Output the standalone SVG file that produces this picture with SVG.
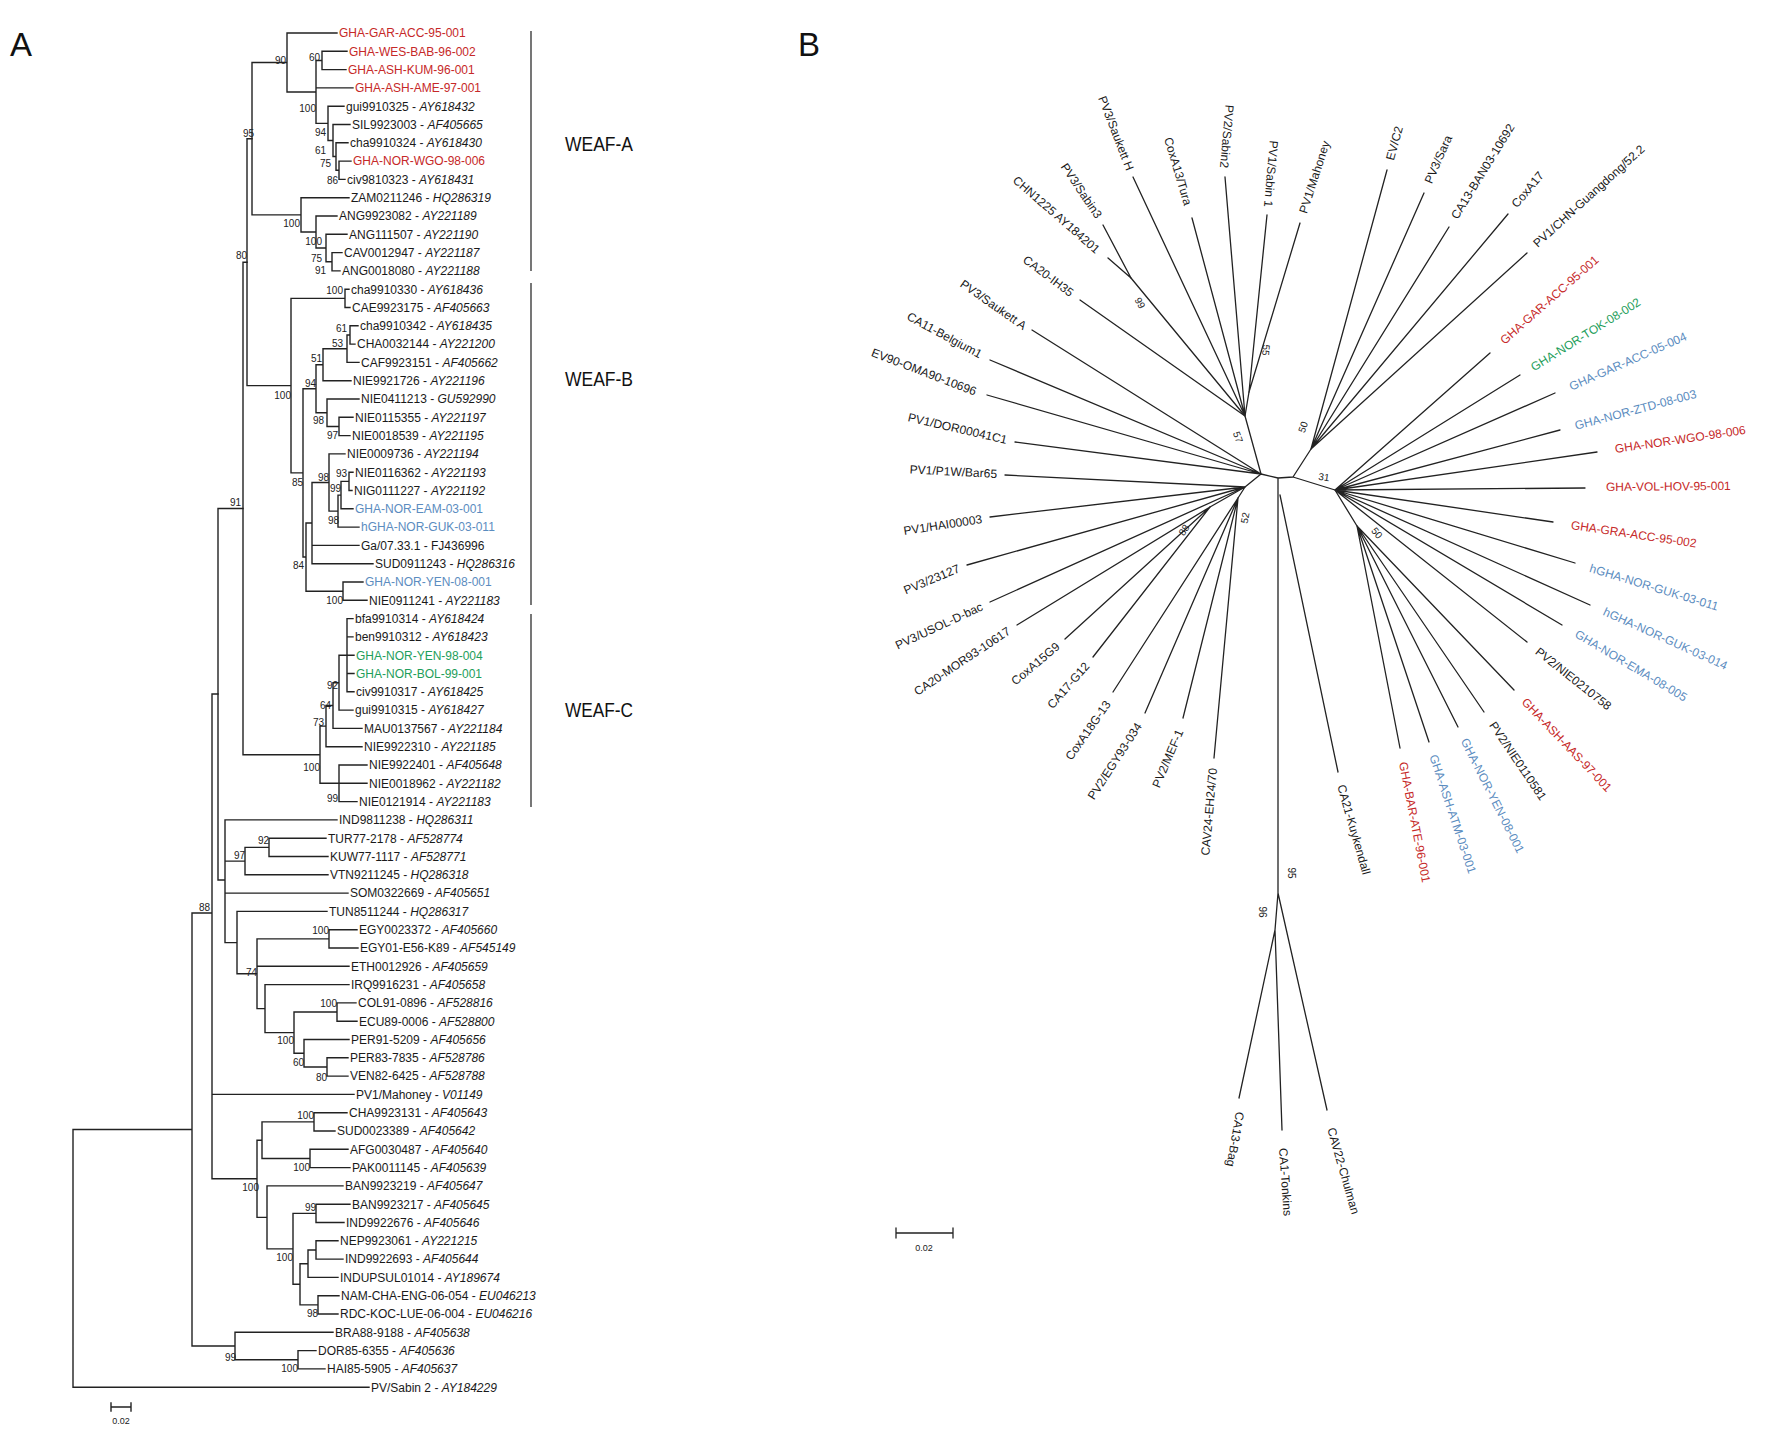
<svg xmlns="http://www.w3.org/2000/svg" width="1772" height="1443" viewBox="0 0 1772 1443">
<style>
text{font-family:"Liberation Sans",Arial,sans-serif}
.ln{fill:none;stroke:#222;stroke-width:1.4;stroke-linecap:square}
.lb{fill:none;stroke:#222;stroke-width:1.3;stroke-linecap:round}
.br{fill:none;stroke:#555;stroke-width:1.6}
.lf{font-size:12px;fill:#1a1a1a}
.it{font-style:italic}
.r{fill:#c62828}.b{fill:#5b8cc0}.g{fill:#1e9e5a}
.bs{font-size:10px;fill:#222;text-anchor:end}
.bb{font-size:10px;fill:#222;text-anchor:middle;dominant-baseline:central}
.tl{font-size:12px;fill:#1a1a1a;dominant-baseline:central}
.tl.r{fill:#c62828}.tl.b{fill:#5b8cc0}.tl.g{fill:#1e9e5a}
.e{text-anchor:end}
.pl{font-size:33px;fill:#111}
.wf{font-size:21px;fill:#111}
.sc{font-size:9px;fill:#222;text-anchor:middle}
</style>
<rect width="1772" height="1443" fill="#fff"/>
<g id="panel-labels"><text class="pl" x="10" y="56">A</text><text class="pl" x="798" y="56">B</text></g>
<g id="connectors">
<path class="ln" d="M322 51.3V69.6M322 51.3H347M322 69.6H346M339 161.1V179.4M339 161.1H351M339 179.4H345M336 142.8V170.3M336 142.8H348M336 170.3H339M333 124.5V156.5M333 124.5H350M333 156.5H336M328 106.2V140.5M328 106.2H344M328 140.5H333M316 60.5V123.4M316 60.5H322M316 87.9H353M316 123.4H328M287 33V92M287 33H337M287 92H316M332 252.6V270.9M332 252.6H342M332 270.9H340M326 234.3V261.8M326 234.3H347M326 261.8H332M316 216V248M316 216H337M316 248H326M301 197.7V232M301 197.7H349M301 232H316M252 62.5V214.9M252 62.5H287M252 214.9H301"/>
<path class="ln" d="M345 289.2V307.5M345 289.2H349M345 307.5H350M350 325.8V344.1M350 325.8H358M350 344.1H355M347 335V362.4M347 335H350M347 362.4H359M323 348.7V380.7M323 348.7H347M323 380.7H351M339 417.3V435.6M339 417.3H353M339 435.6H350M327 399V426.5M327 399H359M327 426.5H339M316 364.7V412.8M316 364.7H323M316 412.8H327M349 472.2V490.5M349 472.2H353M349 490.5H352M341 481.4V508.8M341 481.4H349M341 508.8H353M338 495.1V527.1M338 495.1H341M338 527.1H359M329 453.9V511.1M329 453.9H345M329 511.1H338M312 482.5V563.7M312 482.5H329M312 545.4H359M312 563.7H373M343 582V600.3M343 582H363M343 600.3H367M306 523V591.2M306 523H312M306 591.2H343M303 388.7V557M303 388.7H316M303 557H306M291 298.4V472.9M291 298.4H345M291 472.9H303M247 138.7V385.6M247 138.7H252M247 385.6H291"/>
<path class="ln" d="M347 618.6V691.8M347 618.6H353M347 636.9H353M347 655.2H354M347 673.5H354M347 691.8H354M339 655.2V710.1M339 655.2H347M339 710.1H353M333 682.7V728.4M333 682.7H339M333 728.4H362M326 705.5V746.7M326 705.5H333M326 746.7H362M339 765V801.6M339 765H367M339 783.3H367M339 801.6H357M320 726.1V783.3M320 726.1H326M320 783.3H339M243 262.2V754.7M243 262.2H247M243 754.7H320"/>
<path class="ln" d="M269 838.2V856.5M269 838.2H326M269 856.5H328M245 847.4V874.8M245 847.4H269M245 874.8H328M225 819.9V942.6M225 819.9H337M225 861.1H245M225 893.1H348M225 942.6H237M218 508.5V880M218 508.5H243M218 880H225M329 929.7V948M329 929.7H357M329 948H358M337 1002.9V1021.2M337 1002.9H356M337 1021.2H357M327 1057.8V1076.1M327 1057.8H348M327 1076.1H348M304 1039.5V1067M304 1039.5H349M304 1067H327M294 1012V1053.2M294 1012H337M294 1053.2H304M265 984.6V1032.6M265 984.6H349M265 1032.6H294M257 938.9V1008.6M257 938.9H329M257 966.3H349M257 1008.6H265M237 911.4V973.7M237 911.4H327M237 973.7H257"/>
<path class="ln" d="M314 1112.7V1131M314 1112.7H347M314 1131H335M310 1149.3V1167.6M310 1149.3H348M310 1167.6H350M262 1121.9V1158.5M262 1121.9H314M262 1158.5H310M316 1204.2V1222.5M316 1204.2H350M316 1222.5H344M316 1240.8V1259.1M316 1240.8H338M316 1259.1H343M308 1250V1277.4M308 1250H316M308 1277.4H338M318 1295.7V1314M318 1295.7H339M318 1314H338M300 1263.7V1304.9M300 1263.7H308M300 1304.9H318M293 1213.4V1284.3M293 1213.4H316M293 1284.3H300M267 1185.9V1248.9M267 1185.9H343M267 1248.9H293M257 1140.2V1217.4M257 1140.2H262M257 1217.4H267M212 694V1178.8M212 694H218M212 1094.4H354M212 1178.8H257M298 1350.6V1368.9M298 1350.6H316M298 1368.9H325M235 1332.3V1359.8M235 1332.3H333M235 1359.8H298M192 913V1346M192 913H212M192 1346H235M73 1129.5V1387.2M73 1129.5H192M73 1387.2H369"/>
<path class="br" d="M531 31V271M531 283V605M531 614V807"/>
<path class="ln" d="M111 1407H131M111 1403V1411M131 1403V1411"/>
<path class="lb" d="M1261 474L1278 478M1245 487L1261 474M1245 416L1261 474M1249 392L1245 416M1131 278L1245 416M1210 507L1245 487M1238 498L1245 487M1278 478L1293 477M1293 477L1311 449M1293 477L1335 490M1335 490L1357 526M1278 478L1278 893M1278 893L1275 930M1278 893L1327 1110M1275 930L1239 1098M1275 930L1282 1130M1280 495L1338 772"/>
<path class="lb" d="M1245 416L1133 177M1245 416L1192 218M1245 416L1225 177M1245 416L1080 300M1249 392L1267 215M1249 392L1300 223M1131 278L1103 225M1131 278L1108 258M1261 474L1032 330M1261 474L990 360M1261 474L987 395M1261 474L1015 442M1245 487L1005 475M1245 487L990 517M1245 487L967 565M1245 487L990 602M1210 507L1017 625M1210 507L1065 639M1210 507L1093 657M1238 498L1113 692M1238 498L1145 713M1238 498L1183 718M1238 498L1214 758"/>
<path class="lb" d="M1311 449L1387 170M1311 449L1424 193M1311 449L1449 227M1311 449L1508 214M1311 449L1527 253M1335 490L1490 353M1335 490L1520 375M1335 490L1555 393M1335 490L1560 430M1335 490L1597 452M1335 490L1585 488M1335 490L1553 522M1335 490L1575 563M1335 490L1590 605M1335 490L1562 625M1335 490L1527 642M1357 526L1514 690M1357 526L1484 712M1357 526L1458 727M1357 526L1429 742M1357 526L1400 748"/>
<path class="lb" d="M896 1233H953M896 1228V1238M953 1228V1238"/>
</g>
<g id="clade-labels">
<text class="wf" x="565" y="151" textLength="68" lengthAdjust="spacingAndGlyphs">WEAF-A</text>
<text class="wf" x="565" y="386" textLength="68" lengthAdjust="spacingAndGlyphs">WEAF-B</text>
<text class="wf" x="565" y="717" textLength="68" lengthAdjust="spacingAndGlyphs">WEAF-C</text>
<text class="sc" x="121" y="1424">0.02</text>
<text class="sc" x="924" y="1251">0.02</text>
</g>
<g id="bootstrap-a">
<text class="bs" x="286" y="63.5">90</text><text class="bs" x="320" y="60.5">60</text><text class="bs" x="316" y="111.5">100</text><text class="bs" x="254" y="136.5">95</text><text class="bs" x="326" y="135.5">94</text><text class="bs" x="326" y="153.5">61</text><text class="bs" x="331" y="166.5">75</text><text class="bs" x="338" y="183.5">86</text><text class="bs" x="300" y="226.5">100</text><text class="bs" x="322" y="244.5">100</text><text class="bs" x="322" y="261.5">75</text><text class="bs" x="326" y="273.5">91</text><text class="bs" x="247" y="258.5">80</text>
<text class="bs" x="343" y="293.5">100</text><text class="bs" x="347" y="331.5">61</text><text class="bs" x="343" y="346.5">53</text><text class="bs" x="322" y="361.5">51</text><text class="bs" x="316" y="386.5">94</text><text class="bs" x="291" y="398.5">100</text><text class="bs" x="324" y="423.5">98</text><text class="bs" x="338" y="438.5">97</text><text class="bs" x="329" y="480.5">98</text><text class="bs" x="347" y="476.5">93</text><text class="bs" x="341" y="491.5">99</text><text class="bs" x="303" y="485.5">85</text><text class="bs" x="241" y="505.5">91</text><text class="bs" x="339" y="523.5">98</text><text class="bs" x="304" y="568.5">84</text><text class="bs" x="343" y="603.5">100</text>
<text class="bs" x="338" y="688.5">92</text><text class="bs" x="331" y="708.5">64</text><text class="bs" x="324" y="725.5">73</text><text class="bs" x="320" y="770.5">100</text><text class="bs" x="338" y="801.5">99</text><text class="bs" x="269" y="843.5">92</text><text class="bs" x="245" y="858.5">97</text><text class="bs" x="210" y="910.5">88</text><text class="bs" x="329" y="933.5">100</text><text class="bs" x="257" y="975.5">74</text><text class="bs" x="337" y="1006.5">100</text><text class="bs" x="294" y="1043.5">100</text><text class="bs" x="304" y="1065.5">60</text><text class="bs" x="327" y="1080.5">80</text><text class="bs" x="314" y="1118.5">100</text><text class="bs" x="310" y="1170.5">100</text><text class="bs" x="259" y="1190.5">100</text><text class="bs" x="316" y="1210.5">99</text><text class="bs" x="293" y="1260.5">100</text><text class="bs" x="318" y="1316.5">98</text><text class="bs" x="236" y="1360.5">99</text><text class="bs" x="298" y="1371.5">100</text>
</g>
<g id="bootstrap-b">
<text class="bb" transform="translate(1140 303) rotate(60)">99</text><text class="bb" transform="translate(1266 350) rotate(95)">55</text><text class="bb" transform="translate(1238 437) rotate(70)">57</text><text class="bb" transform="translate(1184 530) rotate(-55)">88</text><text class="bb" transform="translate(1245 518) rotate(-80)">52</text><text class="bb" transform="translate(1303 427) rotate(-70)">50</text><text class="bb" transform="translate(1324 477) rotate(8)">31</text><text class="bb" transform="translate(1377 533) rotate(50)">50</text><text class="bb" transform="translate(1291 873) rotate(90)">95</text><text class="bb" transform="translate(1262 912) rotate(90)">96</text>
</g>
<g id="a1"><text class="lf r" x="339" y="37.3">GHA-GAR-ACC-95-001</text></g>
<g id="a2"><text class="lf r" x="349" y="55.6">GHA-WES-BAB-96-002</text></g>
<g id="a3"><text class="lf r" x="348" y="73.9">GHA-ASH-KUM-96-001</text></g>
<g id="a4"><text class="lf r" x="355" y="92.2">GHA-ASH-AME-97-001</text></g>
<g id="a5"><text class="lf" x="346" y="110.5">gui9910325 - <tspan class="it">AY618432</tspan></text></g>
<g id="a6"><text class="lf" x="352" y="128.8">SIL9923003 - <tspan class="it">AF405665</tspan></text></g>
<g id="a7"><text class="lf" x="350" y="147.1">cha9910324 - <tspan class="it">AY618430</tspan></text></g>
<g id="a8"><text class="lf r" x="353" y="165.4">GHA-NOR-WGO-98-006</text></g>
<g id="a9"><text class="lf" x="347" y="183.7">civ9810323 - <tspan class="it">AY618431</tspan></text></g>
<g id="a10"><text class="lf" x="351" y="202">ZAM0211246 - <tspan class="it">HQ286319</tspan></text></g>
<g id="a11"><text class="lf" x="339" y="220.3">ANG9923082 - <tspan class="it">AY221189</tspan></text></g>
<g id="a12"><text class="lf" x="349" y="238.6">ANG111507 - <tspan class="it">AY221190</tspan></text></g>
<g id="a13"><text class="lf" x="344" y="256.9">CAV0012947 - <tspan class="it">AY221187</tspan></text></g>
<g id="a14"><text class="lf" x="342" y="275.2">ANG0018080 - <tspan class="it">AY221188</tspan></text></g>
<g id="a15"><text class="lf" x="351" y="293.5">cha9910330 - <tspan class="it">AY618436</tspan></text></g>
<g id="a16"><text class="lf" x="352" y="311.8">CAE9923175 - <tspan class="it">AF405663</tspan></text></g>
<g id="a17"><text class="lf" x="360" y="330.1">cha9910342 - <tspan class="it">AY618435</tspan></text></g>
<g id="a18"><text class="lf" x="357" y="348.4">CHA0032144 - <tspan class="it">AY221200</tspan></text></g>
<g id="a19"><text class="lf" x="361" y="366.7">CAF9923151 - <tspan class="it">AF405662</tspan></text></g>
<g id="a20"><text class="lf" x="353" y="385">NIE9921726 - <tspan class="it">AY221196</tspan></text></g>
<g id="a21"><text class="lf" x="361" y="403.3">NIE0411213 - <tspan class="it">GU592990</tspan></text></g>
<g id="a22"><text class="lf" x="355" y="421.6">NIE0115355 - <tspan class="it">AY221197</tspan></text></g>
<g id="a23"><text class="lf" x="352" y="439.9">NIE0018539 - <tspan class="it">AY221195</tspan></text></g>
<g id="a24"><text class="lf" x="347" y="458.2">NIE0009736 - <tspan class="it">AY221194</tspan></text></g>
<g id="a25"><text class="lf" x="355" y="476.5">NIE0116362 - <tspan class="it">AY221193</tspan></text></g>
<g id="a26"><text class="lf" x="354" y="494.8">NIG0111227 - <tspan class="it">AY221192</tspan></text></g>
<g id="a27"><text class="lf b" x="355" y="513.1">GHA-NOR-EAM-03-001</text></g>
<g id="a28"><text class="lf b" x="361" y="531.4">hGHA-NOR-GUK-03-011</text></g>
<g id="a29"><text class="lf" x="361" y="549.7">Ga/07.33.1 - FJ436996</text></g>
<g id="a30"><text class="lf" x="375" y="568">SUD0911243 - <tspan class="it">HQ286316</tspan></text></g>
<g id="a31"><text class="lf b" x="365" y="586.3">GHA-NOR-YEN-08-001</text></g>
<g id="a32"><text class="lf" x="369" y="604.6">NIE0911241 - <tspan class="it">AY221183</tspan></text></g>
<g id="a33"><text class="lf" x="355" y="622.9">bfa9910314 - <tspan class="it">AY618424</tspan></text></g>
<g id="a34"><text class="lf" x="355" y="641.2">ben9910312 - <tspan class="it">AY618423</tspan></text></g>
<g id="a35"><text class="lf g" x="356" y="659.5">GHA-NOR-YEN-98-004</text></g>
<g id="a36"><text class="lf g" x="356" y="677.8">GHA-NOR-BOL-99-001</text></g>
<g id="a37"><text class="lf" x="356" y="696.1">civ9910317 - <tspan class="it">AY618425</tspan></text></g>
<g id="a38"><text class="lf" x="355" y="714.4">gui9910315 - <tspan class="it">AY618427</tspan></text></g>
<g id="a39"><text class="lf" x="364" y="732.7">MAU0137567 - <tspan class="it">AY221184</tspan></text></g>
<g id="a40"><text class="lf" x="364" y="751">NIE9922310 - <tspan class="it">AY221185</tspan></text></g>
<g id="a41"><text class="lf" x="369" y="769.3">NIE9922401 - <tspan class="it">AF405648</tspan></text></g>
<g id="a42"><text class="lf" x="369" y="787.6">NIE0018962 - <tspan class="it">AY221182</tspan></text></g>
<g id="a43"><text class="lf" x="359" y="805.9">NIE0121914 - <tspan class="it">AY221183</tspan></text></g>
<g id="a44"><text class="lf" x="339" y="824.2">IND9811238 - <tspan class="it">HQ286311</tspan></text></g>
<g id="a45"><text class="lf" x="328" y="842.5">TUR77-2178 - <tspan class="it">AF528774</tspan></text></g>
<g id="a46"><text class="lf" x="330" y="860.8">KUW77-1117 - <tspan class="it">AF528771</tspan></text></g>
<g id="a47"><text class="lf" x="330" y="879.1">VTN9211245 - <tspan class="it">HQ286318</tspan></text></g>
<g id="a48"><text class="lf" x="350" y="897.4">SOM0322669 - <tspan class="it">AF405651</tspan></text></g>
<g id="a49"><text class="lf" x="329" y="915.7">TUN8511244 - <tspan class="it">HQ286317</tspan></text></g>
<g id="a50"><text class="lf" x="359" y="934">EGY0023372 - <tspan class="it">AF405660</tspan></text></g>
<g id="a51"><text class="lf" x="360" y="952.3">EGY01-E56-K89 - <tspan class="it">AF545149</tspan></text></g>
<g id="a52"><text class="lf" x="351" y="970.6">ETH0012926 - <tspan class="it">AF405659</tspan></text></g>
<g id="a53"><text class="lf" x="351" y="988.9">IRQ9916231 - <tspan class="it">AF405658</tspan></text></g>
<g id="a54"><text class="lf" x="358" y="1007.2">COL91-0896 - <tspan class="it">AF528816</tspan></text></g>
<g id="a55"><text class="lf" x="359" y="1025.5">ECU89-0006 - <tspan class="it">AF528800</tspan></text></g>
<g id="a56"><text class="lf" x="351" y="1043.8">PER91-5209 - <tspan class="it">AF405656</tspan></text></g>
<g id="a57"><text class="lf" x="350" y="1062.1">PER83-7835 - <tspan class="it">AF528786</tspan></text></g>
<g id="a58"><text class="lf" x="350" y="1080.4">VEN82-6425 - <tspan class="it">AF528788</tspan></text></g>
<g id="a59"><text class="lf" x="356" y="1098.7">PV1/Mahoney - <tspan class="it">V01149</tspan></text></g>
<g id="a60"><text class="lf" x="349" y="1117">CHA9923131 - <tspan class="it">AF405643</tspan></text></g>
<g id="a61"><text class="lf" x="337" y="1135.3">SUD0023389 - <tspan class="it">AF405642</tspan></text></g>
<g id="a62"><text class="lf" x="350" y="1153.6">AFG0030487 - <tspan class="it">AF405640</tspan></text></g>
<g id="a63"><text class="lf" x="352" y="1171.9">PAK0011145 - <tspan class="it">AF405639</tspan></text></g>
<g id="a64"><text class="lf" x="345" y="1190.2">BAN9923219 - <tspan class="it">AF405647</tspan></text></g>
<g id="a65"><text class="lf" x="352" y="1208.5">BAN9923217 - <tspan class="it">AF405645</tspan></text></g>
<g id="a66"><text class="lf" x="346" y="1226.8">IND9922676 - <tspan class="it">AF405646</tspan></text></g>
<g id="a67"><text class="lf" x="340" y="1245.1">NEP9923061 - <tspan class="it">AY221215</tspan></text></g>
<g id="a68"><text class="lf" x="345" y="1263.4">IND9922693 - <tspan class="it">AF405644</tspan></text></g>
<g id="a69"><text class="lf" x="340" y="1281.7">INDUPSUL01014 - <tspan class="it">AY189674</tspan></text></g>
<g id="a70"><text class="lf" x="341" y="1300">NAM-CHA-ENG-06-054 - <tspan class="it">EU046213</tspan></text></g>
<g id="a71"><text class="lf" x="340" y="1318.3">RDC-KOC-LUE-06-004 - <tspan class="it">EU046216</tspan></text></g>
<g id="a72"><text class="lf" x="335" y="1336.6">BRA88-9188 - <tspan class="it">AF405638</tspan></text></g>
<g id="a73"><text class="lf" x="318" y="1354.9">DOR85-6355 - <tspan class="it">AF405636</tspan></text></g>
<g id="a74"><text class="lf" x="327" y="1373.2">HAI85-5905 - <tspan class="it">AF405637</tspan></text></g>
<g id="a75"><text class="lf" x="371" y="1391.5">PV/Sabin 2 - <tspan class="it">AY184229</tspan></text></g>
<g id="b1"><text class="tl r" transform="translate(1502 342) rotate(-41.5)">GHA-GAR-ACC-95-001</text></g>
<g id="b2"><text class="tl g" transform="translate(1532 368) rotate(-31.9)">GHA-NOR-TOK-08-002</text></g>
<g id="b3"><text class="tl b" transform="translate(1570 387) rotate(-23.8)">GHA-GAR-ACC-05-004</text></g>
<g id="b4"><text class="tl b" transform="translate(1575 426) rotate(-14.9)">GHA-NOR-ZTD-08-003</text></g>
<g id="b5"><text class="tl r" transform="translate(1615 449) rotate(-8.3)">GHA-NOR-WGO-98-006</text></g>
<g id="b6"><text class="tl r" transform="translate(1606 487) rotate(-0.5)">GHA-VOL-HOV-95-001</text></g>
<g id="b7"><text class="tl r" transform="translate(1571 525) rotate(8.4)">GHA-GRA-ACC-95-002</text></g>
<g id="b8"><text class="tl b" transform="translate(1590 568) rotate(16.9)">hGHA-NOR-GUK-03-011</text></g>
<g id="b9"><text class="tl b" transform="translate(1604 611) rotate(24.3)">hGHA-NOR-GUK-03-014</text></g>
<g id="b10"><text class="tl b" transform="translate(1576 633) rotate(30.7)">GHA-NOR-EMA-08-005</text></g>
<g id="b11"><text class="tl" transform="translate(1537 650) rotate(38.4)">PV2/NIE0210758</text></g>
<g id="b12"><text class="tl r" transform="translate(1524 700) rotate(46.4)">GHA-ASH-AAS-97-001</text></g>
<g id="b13"><text class="tl" transform="translate(1492 723) rotate(55.8)">PV2/NIE0110581</text></g>
<g id="b14"><text class="tl b" transform="translate(1464 739) rotate(63.4)">GHA-NOR-YEN-08-001</text></g>
<g id="b15"><text class="tl b" transform="translate(1433 755) rotate(71.6)">GHA-ASH-ATM-03-001</text></g>
<g id="b16"><text class="tl r" transform="translate(1403 762) rotate(79.1)">GHA-BAR-ATE-96-001</text></g>
<g id="b17"><text class="tl" transform="translate(1341 785) rotate(74)">CA21-Kuykendall</text></g>
<g id="b18"><text class="tl" transform="translate(1331 1128) rotate(74)">CAV22-Chulman</text></g>
<g id="b19"><text class="tl" transform="translate(1283 1148) rotate(86)">CA1-Tonkins</text></g>
<g id="b20"><text class="tl" transform="translate(1240 1112) rotate(100)">CA13-Bag</text></g>
<g id="b21"><text class="tl" transform="translate(1535 245) rotate(-42.2)">PV1/CHN-Guangdong/52.2</text></g>
<g id="b22"><text class="tl" transform="translate(1514 206) rotate(-50)">CoxA17</text></g>
<g id="b23"><text class="tl" transform="translate(1454 218) rotate(-58.2)">CA13-BAN03-10692</text></g>
<g id="b24"><text class="tl" transform="translate(1428 183) rotate(-66.3)">PV3/Sara</text></g>
<g id="b25"><text class="tl" transform="translate(1390 160) rotate(-74.9)">EV/C2</text></g>
<g id="b26"><text class="tl" transform="translate(1303 213) rotate(-72.1)">PV1/Mahoney</text></g>
<g id="b27"><text class="tl e" transform="translate(1268 207) rotate(95)">PV1/Sabin 1</text></g>
<g id="b28"><text class="tl e" transform="translate(1224 168) rotate(95)">PV2/Sabin2</text></g>
<g id="b29"><text class="tl e" transform="translate(1188 205) rotate(73.4)">CoxA13/Tura</text></g>
<g id="b30"><text class="tl e" transform="translate(1130 170) rotate(69)">PV3/Saukett H</text></g>
<g id="b31"><text class="tl e" transform="translate(1099 217) rotate(56)">PV3/Sabin3</text></g>
<g id="b32"><text class="tl e" transform="translate(1098 251) rotate(41)">CHN1225 AY184201</text></g>
<g id="b33"><text class="tl e" transform="translate(1072 294) rotate(36.9)">CA20-IH35</text></g>
<g id="b34"><text class="tl e" transform="translate(1025 327) rotate(35)">PV3/Saukett A</text></g>
<g id="b35"><text class="tl e" transform="translate(981 355) rotate(28.3)">CA11-Belgium1</text></g>
<g id="b36"><text class="tl e" transform="translate(976 392) rotate(21)">EV90-OMA90-10696</text></g>
<g id="b37"><text class="tl e" transform="translate(1007 440) rotate(13)">PV1/DOR00041C1</text></g>
<g id="b38"><text class="tl e" transform="translate(997 474) rotate(3)">PV1/P1W/Bar65</text></g>
<g id="b39"><text class="tl e" transform="translate(982 519) rotate(-8.8)">PV1/HAI00003</text></g>
<g id="b40"><text class="tl e" transform="translate(959 568) rotate(-22.7)">PV3/23127</text></g>
<g id="b41"><text class="tl e" transform="translate(982 606) rotate(-25)">PV3/USOL-D-bac</text></g>
<g id="b42"><text class="tl e" transform="translate(1009 630) rotate(-33.8)">CA20-MOR93-10617</text></g>
<g id="b43"><text class="tl e" transform="translate(1058 645) rotate(-40)">CoxA15G9</text></g>
<g id="b44"><text class="tl e" transform="translate(1087 664) rotate(-49)">CA17-G12</text></g>
<g id="b45"><text class="tl e" transform="translate(1108 702) rotate(-55)">CoxA18G-13</text></g>
<g id="b46"><text class="tl e" transform="translate(1139 724) rotate(-57)">PV2/EGY93-034</text></g>
<g id="b47"><text class="tl e" transform="translate(1180 730) rotate(-67)">PV2/MEF-1</text></g>
<g id="b48"><text class="tl e" transform="translate(1213 768) rotate(-85)">CAV24-EH24/70</text></g>
</svg>
